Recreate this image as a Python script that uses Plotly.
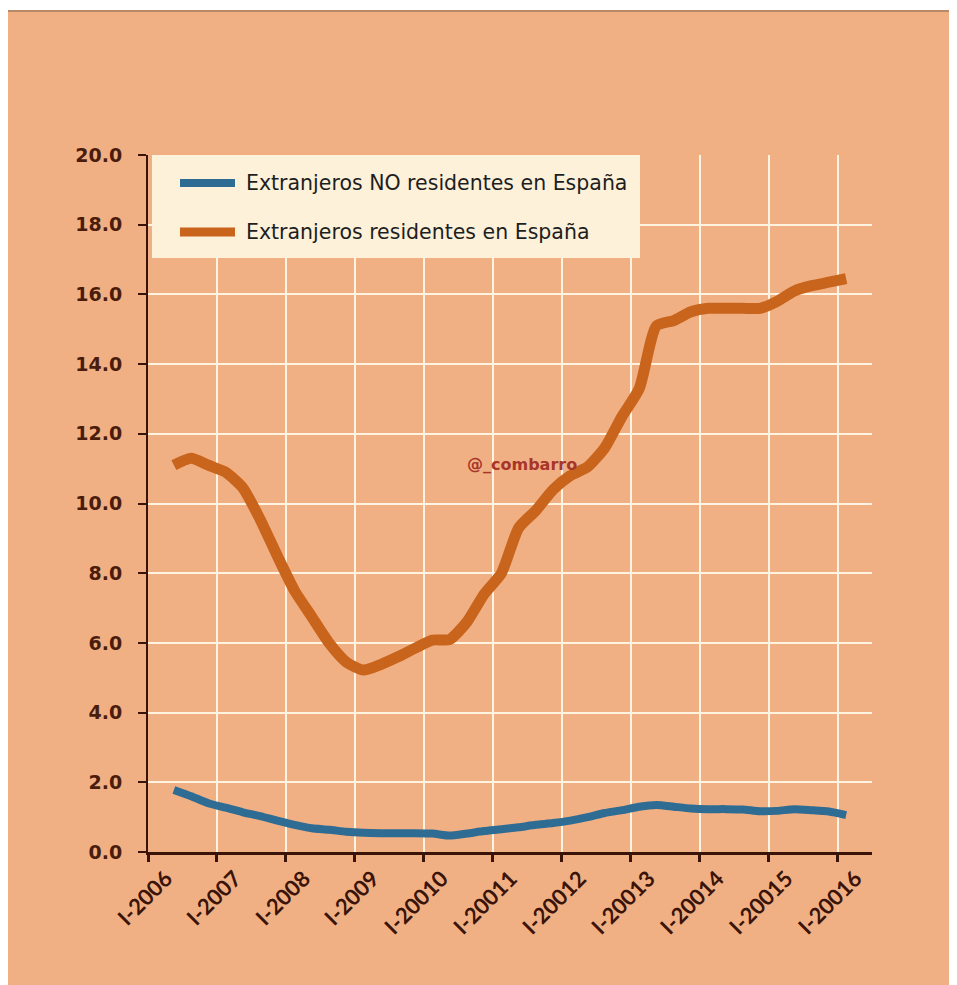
import plotly.graph_objects as go

# Quarterly periods (II-2006 ... I-2016)
periods = []
for yr in range(2006, 2017):
    for q in range(1, 5):
        if (yr == 2006 and q == 1) or (yr == 2016 and q > 1):
            continue
        periods.append((yr, q))

no_residentes = [1.78, 1.60, 1.40, 1.27, 1.14, 1.03, 0.90, 0.78, 0.68, 0.64,
                 0.58, 0.55, 0.54, 0.54, 0.54, 0.53, 0.47, 0.53, 0.60, 0.65,
                 0.71, 0.78, 0.83, 0.90, 1.00, 1.12, 1.20, 1.30, 1.35, 1.30,
                 1.25, 1.23, 1.23, 1.22, 1.17, 1.18, 1.23, 1.20, 1.16, 1.06]

residentes = [11.10, 11.30, 11.10, 10.90, 10.45, 9.55, 8.50, 7.50, 6.75, 6.00,
              5.45, 5.22, 5.38, 5.60, 5.85, 6.08, 6.10, 6.60, 7.40, 8.00,
              9.30, 9.80, 10.40, 10.80, 11.05, 11.60, 12.50, 13.30, 15.10, 15.25,
              15.50, 15.60, 15.60, 15.60, 15.60, 15.80, 16.10, 16.25, 16.35, 16.45]

tick_years = list(range(2006, 2017))
tick_labels = ["I-2006", "I-2007", "I-2008", "I-2009", "I-20010", "I-20011",
               "I-20012", "I-20013", "I-20014", "I-20015", "I-20016"]
y_ticks = [0, 2, 4, 6, 8, 10, 12, 14, 16, 18, 20]

series_names = ["Extranjeros NO residentes en España", "Extranjeros residentes en España"]

x_vals = [yr + (q - 0.5) / 4 for yr, q in periods]

PEACH = "#F1B084"
BLUE = "#2E6C93"
ORANGE = "#C8641C"
DARK = "#3A1408"

fig = go.Figure()
fig.add_trace(go.Scatter(x=x_vals, y=no_residentes, mode="lines", name=series_names[0],
                         line=dict(color=BLUE, width=8, shape="spline", smoothing=0.6),
                         showlegend=False))
fig.add_trace(go.Scatter(x=x_vals, y=residentes, mode="lines", name=series_names[1],
                         line=dict(color=ORANGE, width=11, shape="spline", smoothing=0.6),
                         showlegend=False))

# page offset (browser body margin) compensation
OFF = 8
FIG_W, FIG_H = 957 - OFF, 985 - OFF
# plot-area geometry (pixels, reference coordinates)
L, R, T, B = 148, 872, 155, 852
W, H = R - L, B - T

def px(x):
    return (x - L) / W

def py(y):
    return (B - y) / H

shapes = [
    # background panel
    dict(type="rect", xref="paper", yref="paper", x0=px(7), x1=px(962), y0=py(990), y1=py(11),
         fillcolor=PEACH, line=dict(color="#B88A68", width=2), layer="below"),
    # legend box
    dict(type="rect", xref="paper", yref="paper", x0=px(152), x1=px(640), y0=py(258), y1=py(155),
         fillcolor="#FDF1DA", line=dict(width=0), layer="above"),
    dict(type="line", xref="paper", yref="paper", x0=px(180), x1=px(235), y0=py(183), y1=py(183),
         line=dict(color=BLUE, width=8), layer="above"),
    dict(type="line", xref="paper", yref="paper", x0=px(180), x1=px(235), y0=py(232), y1=py(232),
         line=dict(color=ORANGE, width=9), layer="above"),
]

annotations = [
    dict(xref="paper", yref="paper", x=px(244), y=py(183), xanchor="left", yanchor="middle",
         text=series_names[0], showarrow=False,
         font=dict(family="DejaVu Sans", size=20.5, color="#1E1E1E")),
    dict(xref="paper", yref="paper", x=px(244), y=py(232), xanchor="left", yanchor="middle",
         text=series_names[1], showarrow=False,
         font=dict(family="DejaVu Sans", size=20.5, color="#1E1E1E")),
    dict(xref="paper", yref="paper", x=px(522), y=py(464), xanchor="center", yanchor="middle",
         text="@_combarro", showarrow=False,
         font=dict(family="DejaVu Sans", size=16, color="#A8352A", weight="bold")),
]

fig.update_layout(
    width=FIG_W, height=FIG_H,
    margin=dict(l=L - OFF, r=FIG_W - (R - OFF), t=T - OFF, b=FIG_H - (B - OFF), pad=0),
    paper_bgcolor="white",
    plot_bgcolor="rgba(0,0,0,0)",
    shapes=shapes,
    annotations=annotations,
    showlegend=False,
)

fig.update_xaxes(
    range=[2006, 2016.5],
    tickmode="array", tickvals=tick_years, ticktext=tick_labels,
    tickangle=-45,
    tickfont=dict(family="Lato", size=22, color=DARK, weight="bold"),
    ticklabelstandoff=-5,
    ticklabelshift=18,
    showgrid=True, gridcolor="#FFF3E2", gridwidth=2,
    showline=True, linecolor=DARK, linewidth=3,
    ticks="outside", ticklen=7, tickwidth=3, tickcolor=DARK,
    zeroline=False,
)
fig.update_yaxes(
    range=[0, 20],
    tickmode="array", tickvals=y_ticks, tickformat=".1f",
    tickfont=dict(family="DejaVu Sans", size=19, color="#4A1C0C", weight="bold"),
    ticklabelstandoff=12,
    showgrid=True, gridcolor="#FFF3E2", gridwidth=2,
    showline=True, linecolor=DARK, linewidth=2,
    ticks="outside", ticklen=8, tickwidth=2, tickcolor=DARK,
    zeroline=False,
)

fig.write_html("out.html")
